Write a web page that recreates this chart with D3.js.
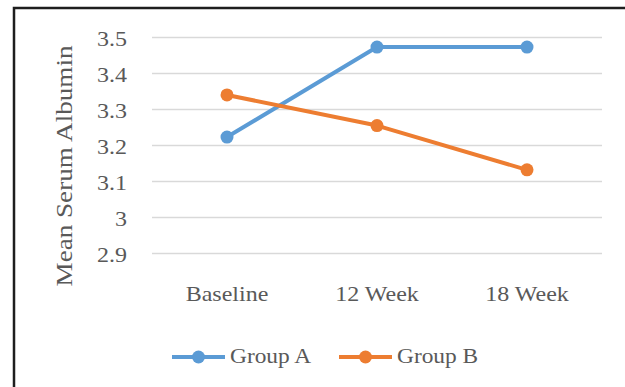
<!DOCTYPE html>
<html>
<head>
<meta charset="utf-8">
<script src="https://cdn.jsdelivr.net/npm/d3@7"></script>
<style>
  html, body { margin: 0; padding: 0; background: #fff; }
  svg { display: block; }
</style>
</head>
<body>
<script>
const categories = ["Baseline", "12 Week", "18 Week"];
const seriesNames = ["Group A", "Group B"];
const groupA = [3.222, 3.472, 3.472];
const groupB = [3.339, 3.254, 3.131];
const yTicks = [2.9, 3.0, 3.1, 3.2, 3.3, 3.4, 3.5];
const yTickLabels = ["2.9", "3", "3.1", "3.2", "3.3", "3.4", "3.5"];
const colors = ["#5B9BD5", "#ED7D31"];

(function () {
const FONT = "'Liberation Serif', 'Times New Roman', serif";
const W = 625, H = 387;
const svg = d3.select("body").append("svg").attr("width", W).attr("height", H)
  .attr("font-family", FONT);

// frame
svg.append("rect").attr("x", 14).attr("y", 8).attr("width", 700).attr("height", 500)
  .attr("fill", "none").attr("stroke", "#1e1e1e").attr("stroke-width", 2.5);

const pLeft = 152, pRight = 602, pTop = 37, pBottom = 253;
const x = d3.scaleBand().domain(categories).range([pLeft, pRight]);
const y = d3.scaleLinear().domain([2.9, 3.5]).range([pBottom, pTop]);

// gridlines + y labels
const yAxis = d3.axisLeft(y).tickValues(yTicks)
  .tickFormat((d, i) => yTickLabels[i]).tickSize(-(pRight - pLeft)).tickPadding(0);
const gy = svg.append("g").attr("transform", `translate(${pLeft},0)`).call(yAxis)
  .attr("font-family", FONT);
gy.select(".domain").remove();
gy.selectAll(".tick line").attr("stroke", "#D9D9D9").attr("stroke-width", 1.5);
gy.selectAll(".tick text")
  .attr("font-family", FONT)
  .attr("font-size", 20).attr("fill", "#595959")
  .attr("text-anchor", "end").attr("dy", null)
  .attr("x", -25 / 1.2).attr("y", 8)
  .attr("transform", "scale(1.2,1)");

// x labels
const xAxis = d3.axisBottom(x).tickSize(0).tickPadding(0);
const gx = svg.append("g").attr("transform", `translate(0,${pBottom})`).call(xAxis)
  .attr("font-family", FONT);
gx.select(".domain").remove();
gx.selectAll(".tick text")
  .attr("font-family", FONT)
  .attr("font-size", 20).attr("fill", "#595959")
  .attr("dy", null).attr("y", 48)
  .attr("transform", "scale(1.2,1)");

// y title
svg.append("text")
  .attr("transform", "translate(72,166) rotate(-90) scale(1.13,1)")
  .attr("text-anchor", "middle").attr("font-size", 24)
  .attr("font-family", FONT).attr("fill", "#595959")
  .text("Mean Serum Albumin");

// series
const series = [groupA, groupB];
const line = d3.line().x((d, i) => x(categories[i]) + x.bandwidth() / 2).y(d => y(d));
series.forEach((vals, s) => {
  svg.append("path").datum(vals).attr("d", line)
    .attr("fill", "none").attr("stroke", colors[s]).attr("stroke-width", 4)
    .attr("stroke-linejoin", "round").attr("stroke-linecap", "round");
  svg.selectAll(null).data(vals).enter().append("circle")
    .attr("cx", (d, i) => x(categories[i]) + x.bandwidth() / 2)
    .attr("cy", d => y(d)).attr("r", 6.5).attr("fill", colors[s]);
});

// legend
const legendX = [172, 339];
const legendY = 357;
seriesNames.forEach((name, s) => {
  const g = svg.append("g").attr("transform", `translate(${legendX[s]},${legendY})`);
  g.append("line").attr("x1", 0).attr("x2", 53).attr("y1", 0).attr("y2", 0)
    .attr("stroke", colors[s]).attr("stroke-width", 4);
  g.append("circle").attr("cx", 26.5).attr("cy", 0).attr("r", 6.5).attr("fill", colors[s]);
  g.append("text").attr("transform", "translate(58,6) scale(1.17,1)")
    .attr("font-family", FONT).attr("fill", "#595959")
    .attr("font-size", 20).text(name);
});
})();
</script>
</body>
</html>
